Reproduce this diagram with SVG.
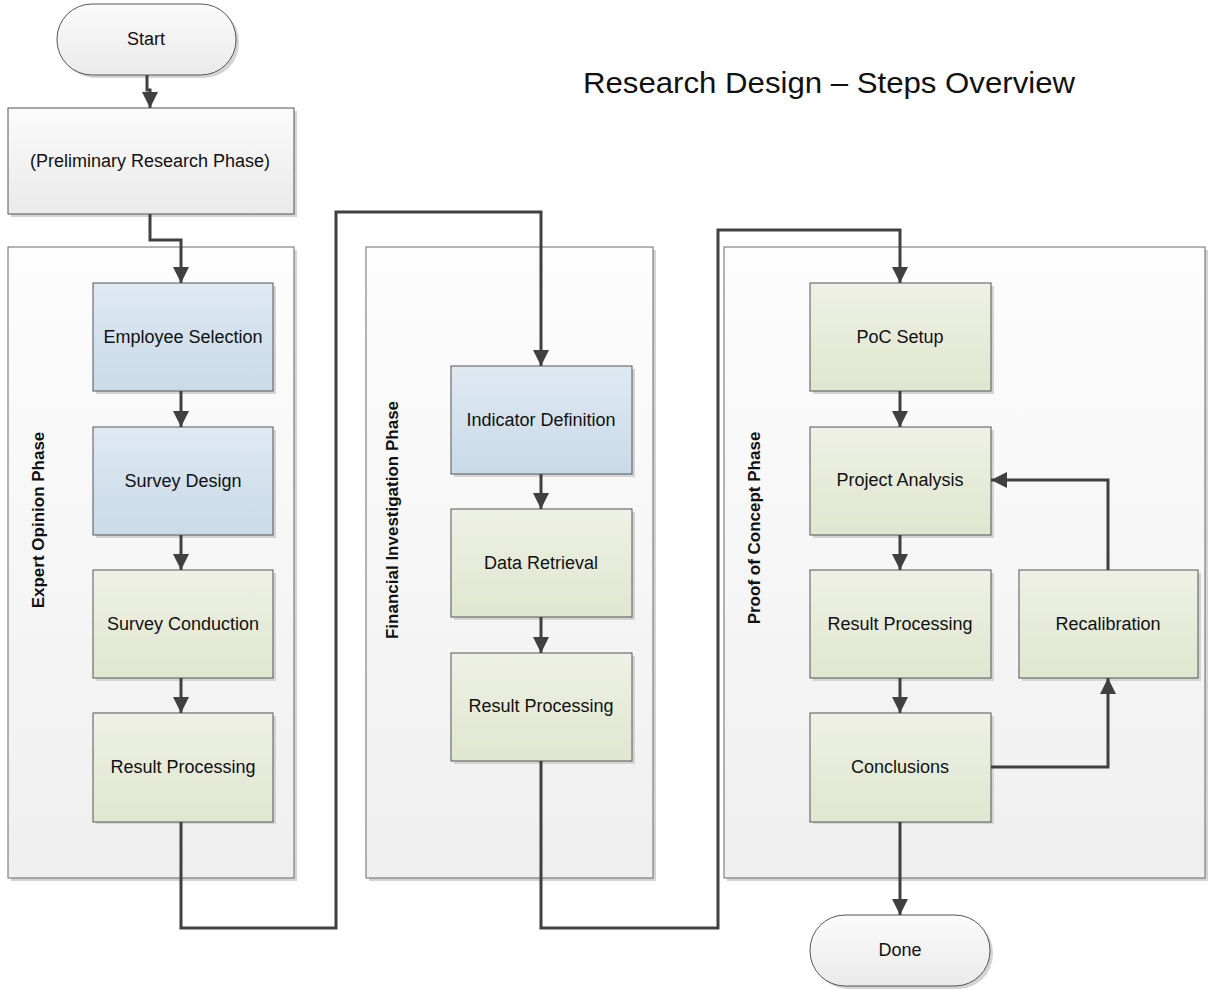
<svg xmlns="http://www.w3.org/2000/svg" width="1208" height="990" viewBox="0 0 1208 990">
<defs>
<linearGradient id="gLane" x1="0" y1="0" x2="0" y2="1"><stop offset="0" stop-color="#fdfdfd"/><stop offset="1" stop-color="#efefef"/></linearGradient>
<linearGradient id="gBlue" x1="0" y1="0" x2="0" y2="1"><stop offset="0" stop-color="#dfe9f2"/><stop offset="1" stop-color="#c9dae9"/></linearGradient>
<linearGradient id="gGreen" x1="0" y1="0" x2="0" y2="1"><stop offset="0" stop-color="#eef1e5"/><stop offset="1" stop-color="#e0e6cf"/></linearGradient>
<linearGradient id="gGray" x1="0" y1="0" x2="0" y2="1"><stop offset="0" stop-color="#fbfbfb"/><stop offset="1" stop-color="#eaeaea"/></linearGradient>
<marker id="arr" viewBox="0 0 10 10" refX="10" refY="5" markerWidth="16" markerHeight="16" markerUnits="userSpaceOnUse" orient="auto"><path d="M0,0 L10,5 L0,10 z" fill="#404040"/></marker>
</defs>
<style>
.sh{fill:#d4d4d4}
.lane{fill:url(#gLane);stroke:#6a6a6a;stroke-width:1}
.blue{fill:url(#gBlue);stroke:#555;stroke-width:1}
.green{fill:url(#gGreen);stroke:#555;stroke-width:1}
.gray{fill:url(#gGray);stroke:#555;stroke-width:1}
.t{font-family:"Liberation Sans",Arial,sans-serif;font-size:18px;fill:#111;text-anchor:middle;dominant-baseline:central}
.lt{font-family:"Liberation Sans",Arial,sans-serif;font-size:17px;font-weight:bold;fill:#111;text-anchor:middle;dominant-baseline:central}
.c{fill:none;stroke:#404040;stroke-width:3;stroke-linejoin:miter}
</style>
<rect width="1208" height="990" fill="#fff"/>
<text x="829" y="82" font-family="'Liberation Sans',Arial,sans-serif" font-size="30" fill="#111" text-anchor="middle" dominant-baseline="central" textLength="492" lengthAdjust="spacingAndGlyphs">Research Design – Steps Overview</text>

<g id="lane-expert">
<rect class="sh" x="11" y="250" width="286" height="631"/>
<rect class="lane" x="8" y="247" width="286" height="631"/>
<text class="lt" transform="translate(38,520) rotate(-90)">Expert Opinion Phase</text>
</g>
<g id="lane-financial">
<rect class="sh" x="369" y="250" width="287" height="631"/>
<rect class="lane" x="366" y="247" width="287" height="631"/>
<text class="lt" transform="translate(392,520) rotate(-90)">Financial Investigation Phase</text>
</g>
<g id="lane-poc">
<rect class="sh" x="727" y="250" width="481" height="631"/>
<rect class="lane" x="724" y="247" width="481" height="631"/>
<text class="lt" transform="translate(754,528) rotate(-90)">Proof of Concept Phase</text>
</g>

<g id="start">
<rect class="sh" x="60" y="7" width="179" height="71" rx="35"/>
<rect class="gray" x="57" y="4" width="179" height="71" rx="35"/>
<text class="t" x="146" y="39">Start</text>
</g>
<g id="preliminary">
<rect class="sh" x="11" y="111" width="286" height="106"/>
<rect class="gray" x="8" y="108" width="286" height="106"/>
<text class="t" x="150" y="161">(Preliminary Research Phase)</text>
</g>

<g id="employee-selection">
<rect class="sh" x="96" y="286" width="180" height="108"/>
<rect class="blue" x="93" y="283" width="180" height="108"/>
<text class="t" x="183" y="337">Employee Selection</text>
</g>
<g id="survey-design">
<rect class="sh" x="96" y="430" width="180" height="108"/>
<rect class="blue" x="93" y="427" width="180" height="108"/>
<text class="t" x="183" y="481">Survey Design</text>
</g>
<g id="survey-conduction">
<rect class="sh" x="96" y="573" width="180" height="108"/>
<rect class="green" x="93" y="570" width="180" height="108"/>
<text class="t" x="183" y="624">Survey Conduction</text>
</g>
<g id="result-processing-1">
<rect class="sh" x="96" y="716" width="180" height="108"/>
<rect class="green" x="93" y="713" width="180" height="109"/>
<text class="t" x="183" y="767">Result Processing</text>
</g>

<g id="indicator-definition">
<rect class="sh" x="454" y="369" width="181" height="108"/>
<rect class="blue" x="451" y="366" width="181" height="108"/>
<text class="t" x="541" y="420">Indicator Definition</text>
</g>
<g id="data-retrieval">
<rect class="sh" x="454" y="512" width="181" height="108"/>
<rect class="green" x="451" y="509" width="181" height="108"/>
<text class="t" x="541" y="563">Data Retrieval</text>
</g>
<g id="result-processing-2">
<rect class="sh" x="454" y="656" width="181" height="108"/>
<rect class="green" x="451" y="653" width="181" height="108"/>
<text class="t" x="541" y="706">Result Processing</text>
</g>

<g id="poc-setup">
<rect class="sh" x="813" y="286" width="181" height="108"/>
<rect class="green" x="810" y="283" width="181" height="108"/>
<text class="t" x="900" y="337">PoC Setup</text>
</g>
<g id="project-analysis">
<rect class="sh" x="813" y="430" width="181" height="108"/>
<rect class="green" x="810" y="427" width="181" height="108"/>
<text class="t" x="900" y="480">Project Analysis</text>
</g>
<g id="result-processing-3">
<rect class="sh" x="813" y="573" width="181" height="108"/>
<rect class="green" x="810" y="570" width="181" height="108"/>
<text class="t" x="900" y="624">Result Processing</text>
</g>
<g id="conclusions">
<rect class="sh" x="813" y="716" width="181" height="108"/>
<rect class="green" x="810" y="713" width="181" height="109"/>
<text class="t" x="900" y="767">Conclusions</text>
</g>
<g id="recalibration">
<rect class="sh" x="1022" y="573" width="179" height="108"/>
<rect class="green" x="1019" y="570" width="179" height="108"/>
<text class="t" x="1108" y="624">Recalibration</text>
</g>
<g id="done">
<rect class="sh" x="813" y="918" width="180" height="71" rx="35"/>
<rect class="gray" x="810" y="915" width="180" height="71" rx="35"/>
<text class="t" x="900" y="950">Done</text>
</g>

<g id="connectors">
<path class="c" d="M147,75 V90 H150 V108" marker-end="url(#arr)"/>
<path class="c" d="M150,214 V240 H181 V283" marker-end="url(#arr)"/>
<path class="c" d="M181,391 V427" marker-end="url(#arr)"/>
<path class="c" d="M181,535 V570" marker-end="url(#arr)"/>
<path class="c" d="M181,678 V713" marker-end="url(#arr)"/>
<path class="c" d="M181,822 V928 H336 V212 H541 V366" marker-end="url(#arr)"/>
<path class="c" d="M541,474 V509" marker-end="url(#arr)"/>
<path class="c" d="M541,617 V653" marker-end="url(#arr)"/>
<path class="c" d="M541,761 V928 H718 V230 H900 V283" marker-end="url(#arr)"/>
<path class="c" d="M900,391 V427" marker-end="url(#arr)"/>
<path class="c" d="M900,535 V570" marker-end="url(#arr)"/>
<path class="c" d="M900,678 V713" marker-end="url(#arr)"/>
<path class="c" d="M900,822 V915" marker-end="url(#arr)"/>
<path class="c" d="M991,767 H1108 V678" marker-end="url(#arr)"/>
<path class="c" d="M1108,570 V480 H991" marker-end="url(#arr)"/>
</g>
</svg>
